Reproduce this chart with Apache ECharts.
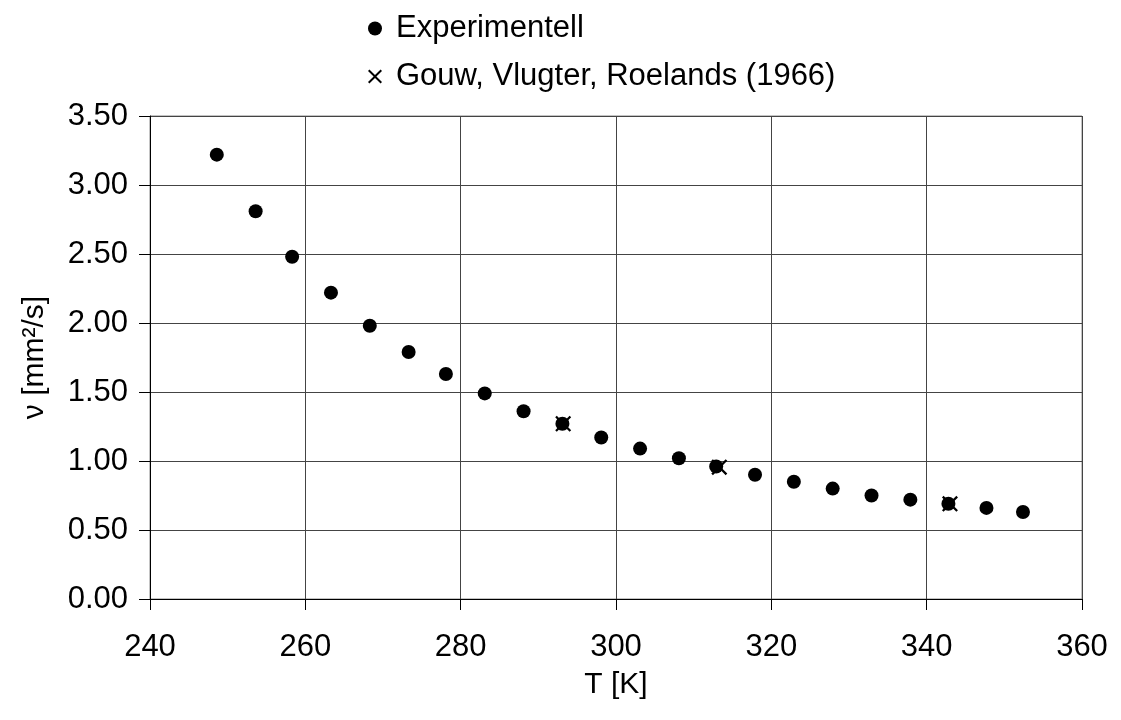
<!DOCTYPE html>
<html>
<head>
<meta charset="utf-8">
<script src="https://cdn.jsdelivr.net/npm/echarts@6/dist/echarts.min.js"></script>
<style>html,body{margin:0;padding:0;background:#fff;}#c{width:1121px;height:720px;}</style>
</head>
<body>
<div id="c"></div>
<script>
var seriesNames = ['Experimentell', 'Gouw, Vlugter, Roelands (1966)'];
var expT = [248.6, 253.6, 258.3, 263.3, 268.3, 273.3, 278.1, 283.1, 288.1, 293.1, 298.1, 303.1, 308.1, 312.9, 317.9, 322.9, 327.9, 332.9, 337.9, 342.8, 347.7, 352.4];
var expV = [3.22, 2.81, 2.48, 2.22, 1.98, 1.79, 1.63, 1.49, 1.36, 1.27, 1.17, 1.09, 1.02, 0.96, 0.90, 0.85, 0.80, 0.75, 0.72, 0.69, 0.66, 0.63];
var gvrT = [293.2, 313.3, 343.0];
var gvrV = [1.27, 0.955, 0.69];
var xTicks = [240, 260, 280, 300, 320, 340, 360];
var yTicks = [0, 0.5, 1.0, 1.5, 2.0, 2.5, 3.0, 3.5];

var crossPath = 'path://M0,1 L1,0 L5,4 L9,0 L10,1 L6,5 L10,9 L9,10 L5,6 L1,10 L0,9 L4,5 Z';
var FONT = '"Liberation Sans", Arial, sans-serif';

function zip(a, b) { return a.map(function (v, i) { return [v, b[i]]; }); }

var chart = echarts.init(document.getElementById('c'), null, { renderer: 'canvas' });
chart.setOption({
  backgroundColor: '#ffffff',
  animation: false,
  textStyle: { fontFamily: FONT, color: '#000' },
  legend: {
    orient: 'vertical',
    left: 363,
    top: 8,
    itemWidth: 32,
    itemHeight: 14,
    itemGap: 17,
    textStyle: { fontFamily: FONT, fontSize: 31, color: '#000' },
    data: [
      { name: seriesNames[0], icon: 'circle', itemStyle: { color: '#000', opacity: 1 } },
      { name: seriesNames[1], icon: crossPath, itemStyle: { color: '#000', opacity: 1 } }
    ]
  },
  grid: {
    left: 150, right: 39, top: 116, bottom: 121,
    show: true, borderColor: '#888', borderWidth: 1
  },
  xAxis: {
    type: 'value',
    min: xTicks[0], max: xTicks[xTicks.length - 1], interval: 20,
    name: 'T [K]', nameLocation: 'middle', nameGap: 71,
    nameTextStyle: { fontFamily: FONT, fontSize: 30, color: '#000' },
    axisLine: { show: true, onZero: false, lineStyle: { color: '#000', width: 1 } },
    axisTick: { show: true, inside: false, length: 11, lineStyle: { color: '#000' } },
    axisLabel: { margin: 33, fontFamily: FONT, fontSize: 31, color: '#000' },
    splitLine: { show: true, lineStyle: { color: '#444', width: 1 } }
  },
  yAxis: {
    type: 'value',
    min: yTicks[0], max: yTicks[yTicks.length - 1], interval: 0.5,
    name: 'ν [mm²/s]', nameLocation: 'middle', nameGap: 100, nameRotate: 90,
    nameTextStyle: { fontFamily: FONT, fontSize: 30, color: '#000' },
    axisLine: { show: true, onZero: false, lineStyle: { color: '#000', width: 1 } },
    axisTick: { show: true, inside: false, length: 11, lineStyle: { color: '#000' } },
    axisLabel: { margin: 22, fontFamily: FONT, fontSize: 31, color: '#000',
      formatter: function (v) { return v.toFixed(2); } },
    splitLine: { show: true, lineStyle: { color: '#444', width: 1 } }
  },
  series: [
    {
      name: seriesNames[1], type: 'scatter', data: zip(gvrT, gvrV),
      symbol: crossPath, symbolSize: 16, itemStyle: { color: '#000', opacity: 1 }, z: 2
    },
    {
      name: seriesNames[0], type: 'scatter', data: zip(expT, expV),
      symbol: 'circle', symbolSize: 14, itemStyle: { color: '#000', opacity: 1 }, z: 3
    }
  ]
});
</script>
</body>
</html>
